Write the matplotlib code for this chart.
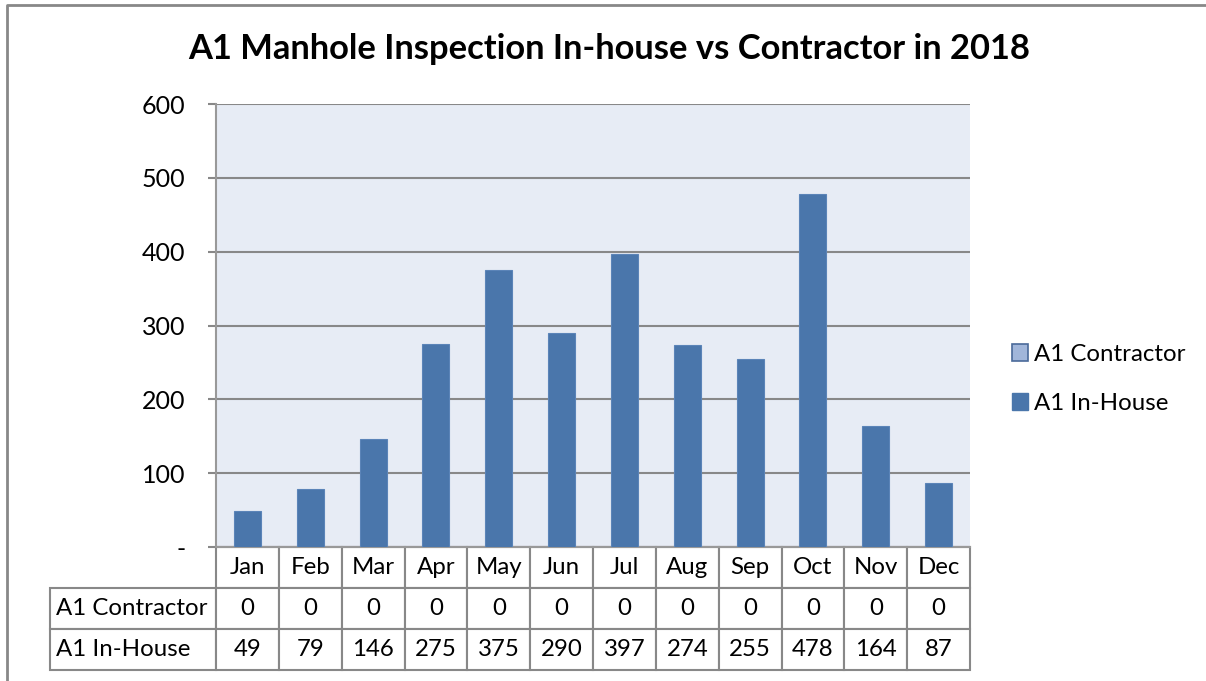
#!/usr/bin/env python3

import matplotlib
matplotlib.use('Agg')

import matplotlib.pyplot as plt
from matplotlib.patches import Patch
from matplotlib.lines import Line2D
from matplotlib.ticker import FuncFormatter

months = ['Jan', 'Feb', 'Mar', 'Apr', 'May', 'Jun', 'Jul', 'Aug', 'Sep', 'Oct', 'Nov', 'Dec']
contractor = [0, 0, 0, 0, 0, 0, 0, 0, 0, 0, 0, 0]
inhouse = [49, 79, 146, 275, 375, 290, 397, 274, 255, 478, 164, 87]
series_names = ['A1 Contractor', 'A1 In-House']
yticks = [0, 100, 200, 300, 400, 500, 600]


def main():
    plt.rcParams['font.family'] = ['Lato', 'DejaVu Sans']
    W, H = 1206, 681
    fig = plt.figure(figsize=(W / 100, H / 100), dpi=100)

    # plot area in pixels: x 216..970, y 104..547
    ax = fig.add_axes([216 / W, 1 - 547 / H, 754 / W, 443 / H])
    ax.set_facecolor('#E7ECF5')

    blue = '#4A76AB'
    light = '#A1B6DA'
    x = list(range(len(months)))
    ax.bar(x, inhouse, width=0.43, color=blue, edgecolor='#5B84B8', linewidth=0.8, zorder=3)
    ax.bar(x, contractor, width=0.43, bottom=inhouse, color=light, zorder=3)

    ax.set_xlim(-0.5, len(months) - 0.5)
    ax.set_ylim(0, 600)
    ax.set_yticks(yticks)
    ax.yaxis.set_major_formatter(FuncFormatter(lambda v, p: '-' if v == 0 else '%d' % v))
    ax.tick_params(axis='y', length=6, width=1.5, color='#888888', pad=16, labelsize=18)
    ax.set_xticks([])
    ax.grid(axis='y', color='#888888', linewidth=1.5, zorder=1)
    for s in ['top', 'right']:
        ax.spines[s].set_visible(False)
    for s in ['left', 'bottom']:
        ax.spines[s].set_color('#999999')
        ax.spines[s].set_linewidth(1.5)

    # data table under the chart (first column holds the series names)
    rows = [[series_names[0]] + [str(v) for v in contractor],
            [series_names[1]] + [str(v) for v in inhouse]]
    tab = ax.table(cellText=rows, colLabels=[''] + months,
                   colWidths=[166] + [62.8] * len(months), cellLoc='center',
                   bbox=[-166 / 754, -123 / 443, 920 / 754, 123 / 443])
    tab.auto_set_font_size(False)
    tab.set_fontsize(17.3)
    for (r, c), cell in tab.get_celld().items():
        cell.set_edgecolor('#888888')
        cell.set_linewidth(1.5)
        if c == 0:
            cell.get_text().set_horizontalalignment('left')
            cell.PAD = 0.035
    tab[0, 0].visible_edges = ''

    handles = [Patch(facecolor=light, edgecolor='#4A6A9A', linewidth=1.2),
               Patch(facecolor=blue, edgecolor=blue)]
    fig.legend(handles, series_names, loc='center left', bbox_to_anchor=(990 / W, 1 - 379 / H),
               frameon=False, fontsize=17.3, handlelength=0.7, handleheight=0.7,
               handletextpad=0.25, labelspacing=1.15)

    fig.text(609 / W, 1 - 49 / H, 'A1 Manhole Inspection In-house vs Contractor in 2018',
             ha='center', va='center', fontsize=24.8, fontweight='bold')

    # chart border (top and left)
    fig.add_artist(Line2D([7 / W, 7 / W, 1.0], [0, 1 - 5 / H, 1 - 5 / H],
                          transform=fig.transFigure, color='#888888', linewidth=2))

    plt.savefig('out.png', dpi=100)


if __name__ == "__main__":
    main()
